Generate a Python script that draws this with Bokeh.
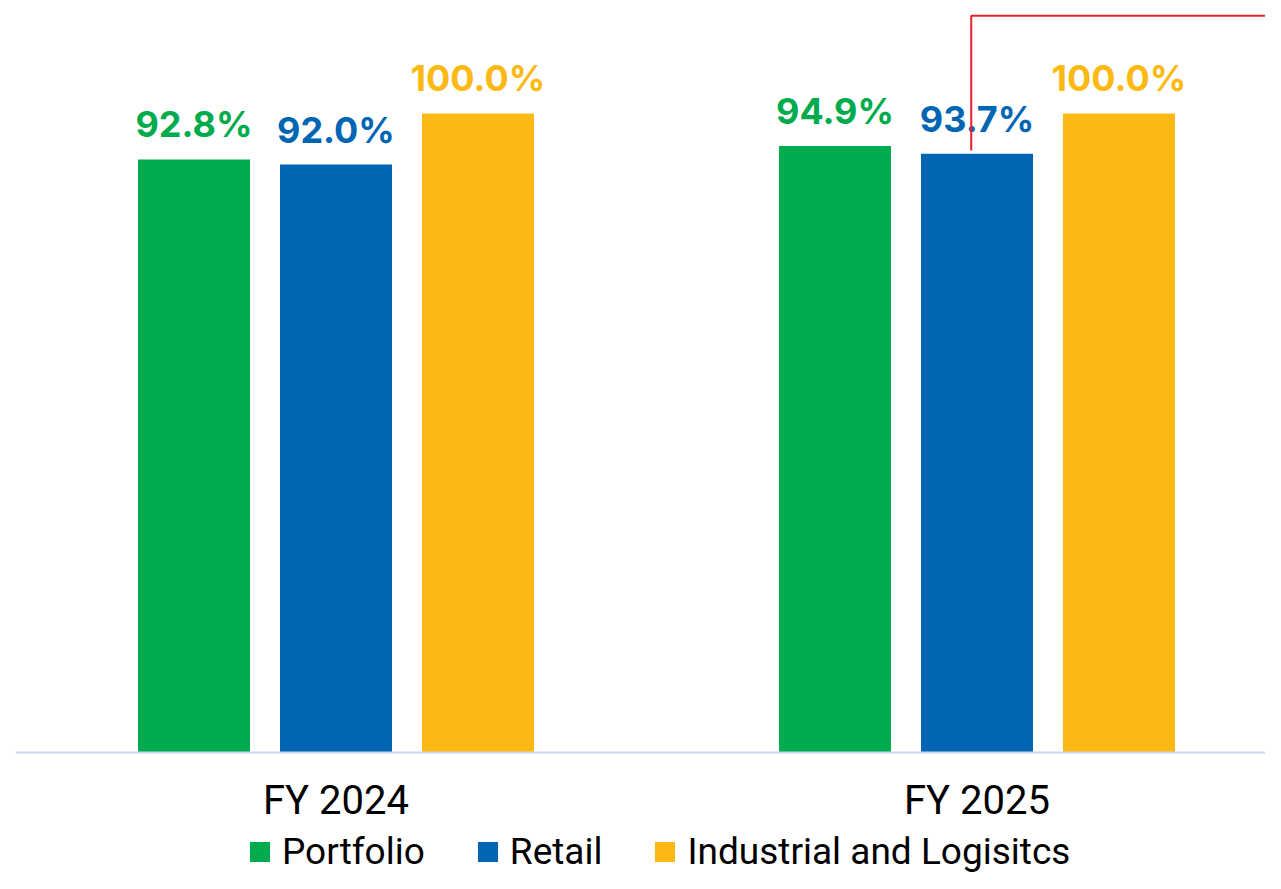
from bokeh.plotting import figure
from bokeh.models import ColumnDataSource, Range1d, Legend, LegendItem, Span
from bokeh.core.properties import value
from bokeh.transform import dodge
from bokeh.embed import file_html
from bokeh.resources import INLINE

# ---- data ----
categories = ["FY 2024", "FY 2025"]
series_names = ["Portfolio", "Retail", "Industrial and Logisitcs"]
portfolio = [92.8, 94.9]
retail = [92.0, 93.7]
industrial = [100.0, 100.0]
colors = ["#00AB4E", "#0066B3", "#FDB913"]

# red callout annotation (x in category units, y in %)
callout_x = [0.991, 0.991, 1.6]
callout_y = [94.2, 115.3, 115.3]

W, H = 1265, 873
LEFT, TOP = 15, 8
PX_PER_CAT = 641.0
PX_PER_PCT = 6.39
y_top = 116.43
p = figure(width=W, height=H, output_backend="svg", toolbar_location=None,
           x_range=Range1d(-0.5, -0.5 + (W - LEFT) / PX_PER_CAT),
           y_range=Range1d(y_top - (H - TOP) / PX_PER_PCT, y_top),
           min_border_left=LEFT, min_border_right=0, min_border_top=TOP,
           min_border_bottom=0)
p.outline_line_color = None
p.xgrid.visible = False
p.ygrid.visible = False
p.xaxis.visible = False
p.yaxis.visible = False
p.background_fill_color = "white"
p.border_fill_color = "white"

xs = list(range(len(categories)))
src = ColumnDataSource(dict(x=xs, cat=categories, zero=[0] * len(xs),
                            Portfolio=portfolio, Retail=retail, Industrial=industrial,
                            lp=[f"{v:.1f}%" for v in portfolio],
                            lr=[f"{v:.1f}%" for v in retail],
                            li=[f"{v:.1f}%" for v in industrial]))

# baseline (category axis line)
p.add_layout(Span(location=0, dimension="width", line_color="#CBD7F4", line_width=2))

offsets = [-0.2215, 0.0, 0.2215]
fields = ["Portfolio", "Retail", "Industrial"]
labels = ["lp", "lr", "li"]
renderers = []
for off, f, lab, c in zip(offsets, fields, labels, colors):
    r = p.vbar(x=dodge("x", off, range=p.x_range), top=f, width=0.1747, bottom=0,
               source=src, fill_color=c, line_color=None)
    renderers.append(r)
    p.text(x=dodge("x", off, range=p.x_range), y=f, text=lab, source=src,
           text_align="center", text_baseline="alphabetic", y_offset=-35,
           text_font=value("Inter"), text_font_style="bold",
           text_font_size="36px", text_color=c)

# category labels
p.text(x="x", y="zero", text="cat", source=src, text_align="center",
       text_baseline="alphabetic", y_offset=48,
       text_font=value("Roboto"), text_font_size="40px", text_color="#000000")

p.line(callout_x, callout_y, line_color="#E8202A", line_width=2)

legend = Legend(items=[LegendItem(label=n, renderers=[r]) for n, r in zip(series_names, renderers)],
                orientation="horizontal", location=(232, 0),
                glyph_width=25, glyph_height=25, label_standoff=10, spacing=50,
                padding=0, margin=0, border_line_color=None, background_fill_alpha=0,
                label_text_font="Roboto", label_text_font_size="37px",
                label_text_color="#000000")
p.add_layout(legend)

open("out.html", "w").write(file_html(p, INLINE))
